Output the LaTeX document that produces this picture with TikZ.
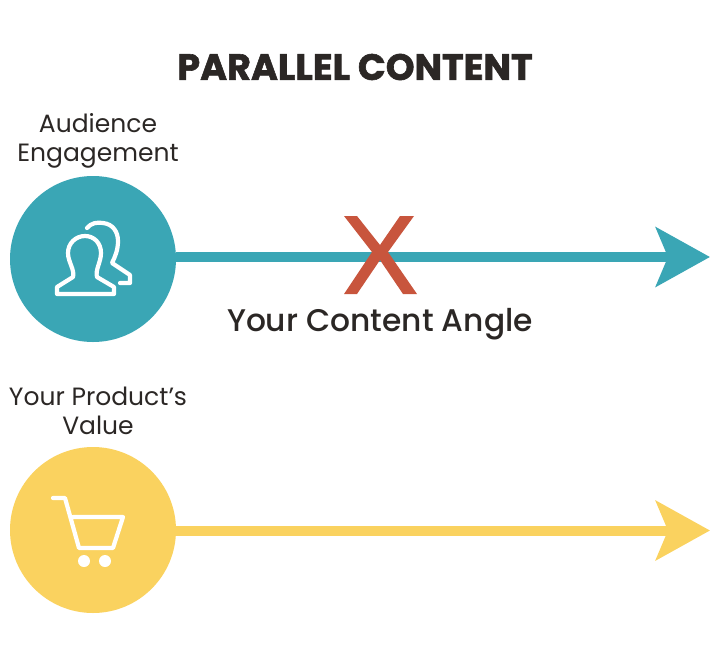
\documentclass[tikz,border=0pt]{standalone}
\usepackage{fontspec}
\setmainfont{Poppins}
\newfontfamily\titlefont[FakeBold=1.6]{Poppins Bold}
\newfontfamily\anglefont{Poppins Medium}
\usetikzlibrary{arrows.meta}

\definecolor{tealc}{HTML}{3AA6B5}
\definecolor{yellowc}{HTML}{FAD25F}
\definecolor{redc}{HTML}{C8553D}
\definecolor{textc}{HTML}{2B2725}

\tikzset{
  disc/.style={circle,inner sep=0pt,minimum size=166pt},
  caption/.style={text=textc,align=center,inner sep=0pt,font=\fontsize{25}{29}\selectfont},
  axis/.style={line width=10pt,-{Stealth[length=54pt,width=59pt,inset=12pt]}},
  icon/.style={draw=white,line width=4.2pt,line join=round,line cap=round}
}

\begin{document}
\begin{tikzpicture}[x=1pt,y=-1pt]

\useasboundingbox (0,0) rectangle (710,649);

\node (title) at (355,67) [text=textc,inner sep=0pt,font=\fontsize{36.6}{40}\titlefont\selectfont] {PARALLEL CONTENT};

\node (audience) at (93,259) [disc,fill=tealc] {};
\node (product) at (93,530) [disc,fill=yellowc] {};

\coordinate (audiencetip) at (710,257);
\coordinate (producttip) at (710,530.5);

\draw[axis,draw=tealc,fill=tealc] (audience.east |- audiencetip) -- (audiencetip);
\draw[axis,draw=yellowc,fill=yellowc] (product.east |- producttip) -- (producttip);

% crossing mark
\fill[redc] (344,216) -- (357,216) -- (380,245) -- (400,216) -- (414,216)
  -- (388,252) -- (417,294) -- (403,294) -- (380,260) -- (357,294) -- (344,294) -- (372,252) -- cycle;

\node (audiencelabel) at (98,141) [caption] {Audience\\Engagement};
\node (productlabel) at (98,411) [caption] {Your Product’s\\Value};
\node (angle) at (380,324) [text=textc,inner sep=0pt,font=\fontsize{31.3}{36}\anglefont\selectfont] {Your Content Angle};

% people icon
\draw[icon] (87,228) .. controls (91,223) and (97,222) .. (103,223)
  .. controls (113,224) and (118,232) .. (118,241)
  .. controls (118,250) and (115,257) .. (112,263)
  -- (130,275) -- (130,283) -- (120,283);
\draw[icon] (57,294) -- (114,294) -- (114,287) -- (97,277)
  .. controls (95,270) and (101,262) .. (101,253)
  .. controls (101,243) and (94,236) .. (85,236)
  .. controls (76,236) and (68,243) .. (68,253)
  .. controls (68,262) and (75,270) .. (73,277)
  -- (57,287) -- cycle;

% cart icon
\draw[icon] (53,498) -- (65,498) -- (79,548) -- (113,548) -- (123,517) -- (73,517);
\fill[white] (84,561) circle (6);
\fill[white] (105,561) circle (6);

\end{tikzpicture}
\end{document}
